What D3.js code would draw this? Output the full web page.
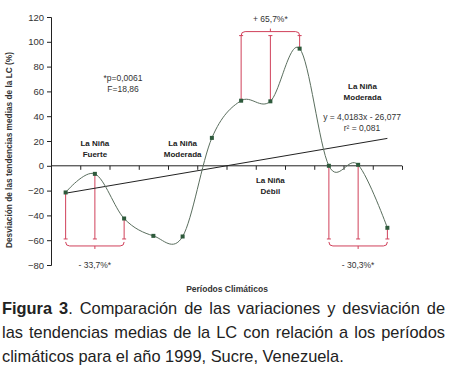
<!DOCTYPE html>
<html><head><meta charset="utf-8">
<script src="https://cdn.jsdelivr.net/npm/d3@7"></script>
<style>
html,body{margin:0;padding:0;background:#fff;}
svg{display:block;}
</style></head>
<body><svg id="chart" width="450" height="371"></svg>
<script>
// ---- data ----
const periods = [1,2,3,4,5,6,7,8,9,10,11,12];
const deviation = [-21.5,-6.5,-42.5,-56.5,-57,22.5,52.5,52,94.5,0,0.8,-50];
const trendEnds = [-22.1, 22.1];           // trend line value at period 1 and 12
const yTicks = [-80,-60,-40,-20,0,20,40,60,80,100,120];
const yTitle = "Desviación de las tendencias medias de la LC (%)";
const xTitle = "Períodos Climáticos";
const phaseLabels = [
  {at:2, v:[ "La Niña","Fuerte"], y:16},
  {at:5, v:[ "La Niña","Moderada"], y:16},
  {at:8, v:[ "La Niña","Débil"], y:-14},
  {at:11.15, v:[ "La Niña","Moderada"], y:62}
];
const brackets = [
  {pts:[0,1,2], text:"- 33,7%*", dir:"down"},
  {pts:[6,7,8], text:"+ 65,7%*", dir:"up"},
  {pts:[9,10,11], text:"- 30,3%*", dir:"down"}
];
const statsText = ["*p=0,0061","F=18,86"];
const eqText = ["y = 4,0183x - 26,077","r² = 0,081"];
const captionLines = [
  [{t:"Figura 3", b:true},{t:". Comparación de las variaciones y desviación de"}],
  [{t:"las tendencias medias de la LC con relación a los períodos"}],
  [{t:"climáticos para el año 1999, Sucre, Venezuela."}]
];

// ---- scales ----
const svg = d3.select("#chart");
const x = d3.scaleBand().domain(periods).range([51,402]);
const xc = d => x(d) + x.bandwidth()/2;
const y = d3.scaleLinear().domain([-80,120]).range([265,17]);
const font = '"Liberation Sans",Arial,sans-serif';

// y axis
const ya = svg.append("g").attr("transform","translate(51,0)")
  .call(d3.axisLeft(y).tickValues(yTicks).tickSize(4).tickPadding(3).tickFormat(d3.format("d")));
ya.select(".domain").attr("stroke","#222");
ya.selectAll("line").attr("stroke","#222");
ya.selectAll("text").attr("font-family",font).attr("font-size","9.5px").attr("fill","#333");

// x axis at zero
const xa = svg.append("g").attr("transform",`translate(0,${y(0)})`)
  .call(d3.axisBottom(d3.scaleLinear().domain([0,12]).range([51,402]))
    .tickValues(d3.range(0,13)).tickSize(4).tickFormat(""));
xa.select(".domain").attr("stroke","#222").attr("d",`M51,0H402`);
xa.selectAll("line").attr("stroke","#222");

// titles
svg.append("text").attr("transform",`translate(12,150) rotate(-90)`)
  .attr("text-anchor","middle").attr("font-family",font).attr("font-weight","bold")
  .attr("font-size","8.3px").attr("fill","#333").text(yTitle);
svg.append("text").attr("x",227).attr("y",292).attr("text-anchor","middle")
  .attr("font-family",font).attr("font-weight","bold").attr("font-size","8.5px").attr("fill","#333").text(xTitle);

// red annotations
const red = "#d0405a";
brackets.forEach(b => {
  const g = svg.append("g").attr("stroke",red).attr("fill","none").attr("stroke-width",1);
  const xs = b.pts.map(i => xc(periods[i]));
  const markV = b.dir === "down" ? -59 : 105;
  const ym = y(markV);
  const yb = b.dir === "down" ? ym + 7 : ym - 4;
  const s = b.dir === "down" ? 1 : -1;
  b.pts.forEach((i,k) => {
    g.append("line").attr("x1",xs[k]).attr("x2",xs[k]).attr("y1",y(deviation[i])).attr("y2",ym);
    g.append("line").attr("x1",xs[k]-2).attr("x2",xs[k]+2).attr("y1",ym).attr("y2",ym);
  });
  const x0 = xs[0], x1 = xs[2], xm = xs[1], r = 4;
  g.append("path").attr("d",
    `M${x0},${yb - s*r} Q${x0},${yb} ${x0+r},${yb} L${x1-r},${yb} Q${x1},${yb} ${x1},${yb - s*r}` +
    ` M${xm},${yb} L${xm},${yb + s*3}`);
  svg.append("text").attr("x",xm).attr("y", b.dir === "down" ? yb + 22 : yb - 10)
    .attr("text-anchor","middle").attr("font-family",font).attr("font-size","8.5px")
    .attr("fill","#333").text(b.text);
});

// trend line
svg.append("line").attr("x1",xc(1)).attr("x2",xc(12)).attr("y1",y(trendEnds[0])).attr("y2",y(trendEnds[1]))
  .attr("stroke","#222").attr("stroke-width",1);

// smoothed series
const line = d3.line().x((d,i) => xc(periods[i])).y(d => y(d)).curve(d3.curveCatmullRom.alpha(0));
svg.append("path").datum(deviation).attr("d",line).attr("fill","none").attr("stroke","#5a6e5e").attr("stroke-width",1);
svg.selectAll("rect.pt").data(deviation).enter().append("rect").attr("class","pt")
  .attr("x",(d,i) => xc(periods[i]) - 2).attr("y",d => y(d) - 2).attr("width",4).attr("height",4)
  .attr("fill","#2e5a3c");

// phase labels
phaseLabels.forEach(p => {
  const px = x.bandwidth()*(p.at - 1) + 51 + x.bandwidth()/2;
  const t = svg.append("text").attr("text-anchor","middle").attr("font-family",font)
    .attr("font-weight","bold").attr("font-size","8px").attr("fill","#222");
  t.append("tspan").attr("x",px).attr("y",y(p.y)).text(p.v[0]);
  t.append("tspan").attr("x",px).attr("dy",11).text(p.v[1]);
});

// stats
const st = svg.append("text").attr("text-anchor","middle").attr("font-family",font).attr("font-size","8.5px").attr("fill","#333");
st.append("tspan").attr("x",123).attr("y",81).text(statsText[0]);
st.append("tspan").attr("x",123).attr("dy",11).text(statsText[1]);
const eq = svg.append("text").attr("text-anchor","middle").attr("font-family",font).attr("font-size","8.5px").attr("fill","#333");
eq.append("tspan").attr("x",362).attr("y",120).text(eqText[0]);
eq.append("tspan").attr("x",362).attr("dy",11).text(eqText[1]);

// caption (lines 1-2 justified to full width)
const capW = 443;
captionLines.forEach((ln,i) => {
  const t = svg.append("text").attr("x",2).attr("y",314 + i*24)
    .attr("font-family",font).attr("font-size","16.4px").attr("fill","#222");
  ln.forEach(seg => t.append("tspan").attr("font-weight",seg.b ? "bold" : null).text(seg.t));
  if (i < 2) {
    const len = t.node().getComputedTextLength();
    const spaces = ln.map(s => s.t).join("").split(" ").length - 1;
    t.attr("word-spacing", ((capW - len)/spaces).toFixed(2) + "px");
  }
});
</script></body></html>
